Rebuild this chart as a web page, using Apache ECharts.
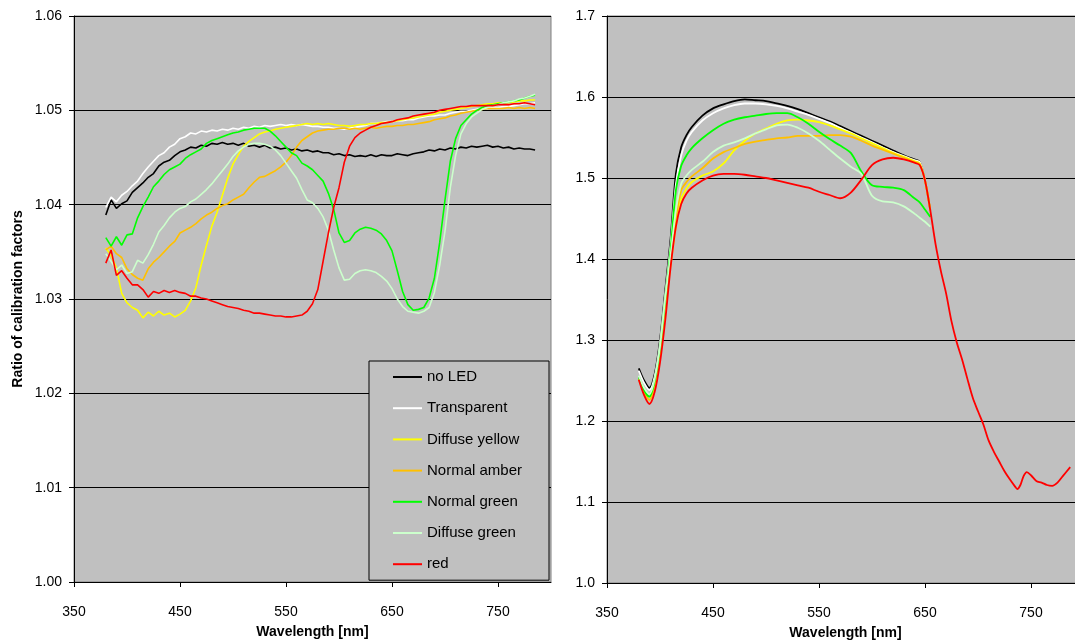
<!DOCTYPE html>
<html>
<head>
<meta charset="utf-8">
<script src="https://cdn.jsdelivr.net/npm/echarts@6/dist/echarts.min.js"></script>
<style>
  html, body { margin: 0; padding: 0; background: #fff; overflow: hidden; }
  #chart { width: 1075px; height: 642px; }
</style>
</head>
<body>
<div id="chart"></div>
<script>
// series names, in legend order
const seriesNames = ['no LED', 'Transparent', 'Diffuse yellow', 'Normal amber', 'Normal green', 'Diffuse green', 'red'];
const seriesColors = ['#000000', '#ffffff', '#ffff00', '#ffc000', '#00ff00', '#ccffcc', '#ff0000'];
const xTicks = [350, 450, 550, 650, 750];

// left panel: ratio of calibration factors
const wlLeft = [380, 385, 390, 395, 400, 405, 410, 415, 420, 425,
  430, 435, 440, 445, 450, 455, 460, 465, 470, 475,
  480, 485, 490, 495, 500, 505, 510, 515, 520, 525,
  530, 535, 540, 545, 550, 555, 560, 565, 570, 575,
  580, 585, 590, 595, 600, 605, 610, 615, 620, 625,
  630, 635, 640, 645, 650, 655, 660, 665, 670, 675,
  680, 685, 690, 695, 700, 705, 710, 715, 720, 725,
  730, 735, 740, 745, 750, 755, 760, 765, 770, 775,
  780, 785];

const noLedLeft = [1.0389, 1.0405, 1.0396, 1.0401, 1.0404, 1.0413, 1.0418, 1.0423, 1.0429, 1.0433,
  1.0441, 1.0445, 1.0447, 1.0452, 1.0456, 1.0458, 1.0461, 1.0460, 1.0463, 1.0462,
  1.0465, 1.0464, 1.0466, 1.0464, 1.0465, 1.0463, 1.0465, 1.0462, 1.0463, 1.0461,
  1.0463, 1.0460, 1.0461, 1.0459, 1.0460, 1.0458, 1.0459, 1.0457, 1.0458, 1.0456,
  1.0457, 1.0455, 1.0455, 1.0453, 1.0454, 1.0452, 1.0453, 1.0451, 1.0452, 1.0451,
  1.0453, 1.0451, 1.0453, 1.0452, 1.0452, 1.0454, 1.0453, 1.0452, 1.0454, 1.0455,
  1.0456, 1.0458, 1.0457, 1.0459, 1.0458, 1.0460, 1.0459, 1.0461, 1.0460, 1.0462,
  1.0461, 1.0462, 1.0463, 1.0461, 1.0462, 1.0460, 1.0461, 1.0459, 1.0460, 1.0459,
  1.0459, 1.0458];

const transparentLeft = [1.0397, 1.0408, 1.0403, 1.0410, 1.0414, 1.0420, 1.0425, 1.0433, 1.0440, 1.0446,
  1.0452, 1.0455, 1.0461, 1.0464, 1.0470, 1.0472, 1.0476, 1.0475, 1.0478, 1.0477,
  1.0479, 1.0478, 1.0480, 1.0479, 1.0481, 1.0480, 1.0482, 1.0481, 1.0483, 1.0482,
  1.0484, 1.0483, 1.0484, 1.0485, 1.0484, 1.0485, 1.0484, 1.0485, 1.0484, 1.0483,
  1.0483, 1.0482, 1.0482, 1.0481, 1.0481, 1.0480, 1.0481, 1.0482, 1.0483, 1.0484,
  1.0486, 1.0486, 1.0487, 1.0488, 1.0488, 1.0489, 1.0489, 1.0490, 1.0490, 1.0492,
  1.0493, 1.0494, 1.0494, 1.0495, 1.0495, 1.0497, 1.0498, 1.0499, 1.0499, 1.0500,
  1.0501, 1.0502, 1.0502, 1.0503, 1.0503, 1.0504, 1.0504, 1.0505, 1.0506, 1.0507,
  1.0507, 1.0508];

const diffuseYellowLeft = [1.0354, 1.0346, 1.0333, 1.0306, 1.0296, 1.0291, 1.0288, 1.0280, 1.0286, 1.0282,
  1.0287, 1.0283, 1.0285, 1.0281, 1.0284, 1.0288, 1.0298, 1.0312, 1.0336, 1.0357,
  1.0377, 1.0392, 1.0410, 1.0428, 1.0443, 1.0453, 1.0462, 1.0467, 1.0471, 1.0475,
  1.0477, 1.0478, 1.0480, 1.0481, 1.0482, 1.0483, 1.0484, 1.0485, 1.0486, 1.0485,
  1.0486, 1.0485, 1.0486, 1.0485, 1.0484, 1.0484, 1.0483, 1.0484, 1.0485, 1.0485,
  1.0486, 1.0486, 1.0487, 1.0487, 1.0488, 1.0489, 1.0490, 1.0491, 1.0492, 1.0493,
  1.0494, 1.0495, 1.0496, 1.0498, 1.0499, 1.0500, 1.0501, 1.0502, 1.0503, 1.0504,
  1.0505, 1.0506, 1.0507, 1.0507, 1.0508, 1.0508, 1.0508, 1.0509, 1.0510, 1.0510,
  1.0511, 1.0511];

const normalAmberLeft = [1.0352, 1.0356, 1.0348, 1.0344, 1.0332, 1.0326, 1.0322, 1.0320, 1.0332, 1.0339,
  1.0344, 1.0350, 1.0356, 1.0361, 1.0370, 1.0373, 1.0376, 1.0380, 1.0385, 1.0389,
  1.0392, 1.0396, 1.0399, 1.0401, 1.0405, 1.0408, 1.0411, 1.0418, 1.0424, 1.0429,
  1.0430, 1.0433, 1.0436, 1.0440, 1.0445, 1.0452, 1.0461, 1.0468, 1.0472, 1.0476,
  1.0478, 1.0479, 1.0480, 1.0480, 1.0481, 1.0481, 1.0480, 1.0481, 1.0480, 1.0481,
  1.0482, 1.0481, 1.0482, 1.0483, 1.0483, 1.0484, 1.0484, 1.0485, 1.0485, 1.0486,
  1.0487, 1.0488, 1.0490, 1.0491, 1.0492, 1.0494, 1.0495, 1.0497, 1.0498, 1.0499,
  1.0500, 1.0501, 1.0502, 1.0502, 1.0502, 1.0502, 1.0503, 1.0502, 1.0503, 1.0502,
  1.0503, 1.0502];

const normalGreenLeft = [1.0365, 1.0356, 1.0366, 1.0357, 1.0368, 1.0369, 1.0386, 1.0398, 1.0408, 1.0419,
  1.0425, 1.0432, 1.0437, 1.0440, 1.0443, 1.0449, 1.0453, 1.0456, 1.0459, 1.0465,
  1.0468, 1.0470, 1.0472, 1.0474, 1.0476, 1.0477, 1.0479, 1.0480, 1.0481, 1.0481,
  1.0481, 1.0478, 1.0473, 1.0467, 1.0461, 1.0455, 1.0452, 1.0444, 1.0441, 1.0437,
  1.0431, 1.0425, 1.0412, 1.0395, 1.0370, 1.0360, 1.0362, 1.0370, 1.0374, 1.0376,
  1.0375, 1.0373, 1.0369, 1.0362, 1.0351, 1.0330, 1.0308, 1.0294, 1.0288, 1.0289,
  1.0291, 1.0301, 1.0322, 1.0360, 1.0405, 1.0446, 1.0470, 1.0484, 1.0490, 1.0496,
  1.0500, 1.0503, 1.0505, 1.0506, 1.0507, 1.0508, 1.0509, 1.0510, 1.0511, 1.0513,
  1.0515, 1.0516];

const diffuseGreenLeft = [1.0348, 1.0340, 1.0331, 1.0336, 1.0327, 1.0329, 1.0341, 1.0338, 1.0347, 1.0358,
  1.0371, 1.0378, 1.0386, 1.0392, 1.0396, 1.0398, 1.0403, 1.0406, 1.0411, 1.0416,
  1.0422, 1.0429, 1.0436, 1.0443, 1.0451, 1.0457, 1.0461, 1.0464, 1.0465, 1.0465,
  1.0464, 1.0462, 1.0458, 1.0452, 1.0444, 1.0436, 1.0428, 1.0416, 1.0405, 1.0402,
  1.0396, 1.0387, 1.0373, 1.0352, 1.0333, 1.0320, 1.0321, 1.0327, 1.0330, 1.0331,
  1.0330, 1.0328, 1.0324, 1.0319, 1.0311, 1.0300, 1.0292, 1.0287, 1.0286, 1.0285,
  1.0287, 1.0291, 1.0307, 1.0336, 1.0372, 1.0418, 1.0452, 1.0475, 1.0486, 1.0493,
  1.0497, 1.0501, 1.0503, 1.0505, 1.0506, 1.0508, 1.0509, 1.0510, 1.0512, 1.0513,
  1.0515, 1.0517];

const redLeft = [1.0338, 1.0352, 1.0325, 1.0330, 1.0322, 1.0315, 1.0315, 1.0310, 1.0302, 1.0308,
  1.0306, 1.0309, 1.0307, 1.0309, 1.0307, 1.0306, 1.0303, 1.0303, 1.0301, 1.0300,
  1.0298, 1.0296, 1.0294, 1.0292, 1.0291, 1.0290, 1.0288, 1.0287, 1.0285, 1.0285,
  1.0284, 1.0283, 1.0282, 1.0282, 1.0281, 1.0281, 1.0282, 1.0283, 1.0287, 1.0295,
  1.0310, 1.0340, 1.0370, 1.0397, 1.0418, 1.0445, 1.0462, 1.0471, 1.0476, 1.0479,
  1.0482, 1.0484, 1.0486, 1.0487, 1.0488, 1.0490, 1.0491, 1.0492, 1.0494, 1.0495,
  1.0496, 1.0497, 1.0498, 1.0500, 1.0501, 1.0502, 1.0503, 1.0504, 1.0504, 1.0505,
  1.0505, 1.0505, 1.0505, 1.0505, 1.0506, 1.0506, 1.0506, 1.0507, 1.0507, 1.0508,
  1.0507, 1.0506];

// right panel
const wlRight = [380, 385, 390, 395, 400, 405, 410, 415, 420, 425, 430,
  440, 450, 460, 470, 480, 490, 500, 510, 520, 530,
  540, 550, 560, 570, 580, 590, 600, 610, 620, 630,
  640, 645, 650, 655,
  660, 665, 670, 675, 680, 685, 690, 695, 700, 705,
  710, 715, 720, 725, 730, 735, 737, 740, 743, 746,
  750, 755, 760, 765, 770, 775, 780, 787];

const noLedRight = [1.265, 1.250, 1.241, 1.258, 1.300, 1.362, 1.425, 1.505, 1.538, 1.553, 1.563,
  1.577, 1.586, 1.591, 1.595, 1.597, 1.596, 1.595, 1.592, 1.589, 1.585,
  1.580, 1.575, 1.570, 1.564, 1.558, 1.552, 1.546, 1.540, 1.534, 1.528,
  1.523, 1.520, 1.497, 1.460];

const transparentRight = [1.262, 1.247, 1.238, 1.255, 1.296, 1.357, 1.418, 1.492, 1.528, 1.546, 1.557,
  1.571, 1.580, 1.586, 1.590, 1.592, 1.592, 1.591, 1.589, 1.586, 1.582,
  1.578, 1.573, 1.568, 1.562, 1.556, 1.550, 1.544, 1.538, 1.532, 1.527,
  1.522, 1.520, 1.497, 1.460];

const diffuseYellowRight = [1.252, 1.236, 1.226, 1.244, 1.283, 1.342, 1.392, 1.440, 1.474, 1.487, 1.495,
  1.503, 1.508, 1.518, 1.534, 1.546, 1.555, 1.561, 1.567, 1.571, 1.572,
  1.571, 1.569, 1.565, 1.560, 1.555, 1.549, 1.543, 1.537, 1.531, 1.526,
  1.521, 1.518, 1.497, 1.460];

const normalAmberRight = [1.252, 1.236, 1.226, 1.245, 1.286, 1.346, 1.398, 1.450, 1.485, 1.495, 1.502,
  1.512, 1.524, 1.532, 1.537, 1.542, 1.545, 1.547, 1.549, 1.550, 1.552,
  1.552, 1.552, 1.553, 1.553, 1.551, 1.546, 1.540, 1.535, 1.530, 1.525,
  1.520, 1.517, 1.497, 1.460];

const normalGreenRight = [1.254, 1.238, 1.230, 1.250, 1.290, 1.352, 1.412, 1.485, 1.515, 1.528, 1.537,
  1.549, 1.559, 1.567, 1.572, 1.575, 1.577, 1.579, 1.580, 1.580, 1.575,
  1.567, 1.557, 1.548, 1.540, 1.531, 1.508, 1.491, 1.489, 1.488, 1.485,
  1.475, 1.470, 1.461, 1.452];

const diffuseGreenRight = [1.256, 1.241, 1.233, 1.252, 1.292, 1.353, 1.405, 1.460, 1.493, 1.503, 1.510,
  1.520, 1.532, 1.540, 1.544, 1.549, 1.555, 1.560, 1.565, 1.566, 1.562,
  1.555, 1.546, 1.535, 1.524, 1.514, 1.505, 1.478, 1.471, 1.470, 1.465,
  1.456, 1.451, 1.446, 1.440];

const redRight = [1.251, 1.232, 1.221, 1.236, 1.272, 1.325, 1.390, 1.440, 1.468, 1.481, 1.488,
  1.497, 1.503, 1.505, 1.505, 1.504, 1.502, 1.500, 1.497, 1.494, 1.491,
  1.488, 1.483, 1.479, 1.475, 1.482, 1.498, 1.516, 1.523, 1.525, 1.523,
  1.519, 1.516, 1.497, 1.460,
  1.418, 1.385, 1.357, 1.323, 1.297, 1.276, 1.252, 1.229, 1.212, 1.196,
  1.176, 1.162, 1.150, 1.138, 1.128, 1.119, 1.116, 1.121, 1.132, 1.137,
  1.133, 1.126, 1.124, 1.121, 1.120, 1.124, 1.132, 1.143];

const leftValues = [noLedLeft, transparentLeft, diffuseYellowLeft, normalAmberLeft, normalGreenLeft, diffuseGreenLeft, redLeft];
const rightValues = [noLedRight, transparentRight, diffuseYellowRight, normalAmberRight, normalGreenRight, diffuseGreenRight, redRight];

const fontFamily = '"Liberation Sans", Arial, sans-serif';

function pairs(wl, vals) {
  return vals.map((v, i) => [wl[i], v]);
}

function makeX(gridIndex) {
  return {
    gridIndex,
    type: 'value',
    min: 350,
    max: 800,
    name: 'Wavelength [nm]',
    nameLocation: 'middle',
    nameGap: 43,
    nameTextStyle: { fontFamily, fontSize: 14, fontWeight: 'bold', color: '#000' },
    axisLine: { onZero: false, lineStyle: { color: '#000', width: 1 } },
    axisTick: { customValues: xTicks, length: 5, lineStyle: { color: '#000' } },
    axisLabel: { customValues: xTicks, fontFamily, fontSize: 14, color: '#000', margin: 23 },
    splitLine: { show: false },
  };
}

function makeY(gridIndex, min, max, interval, digits) {
  return {
    gridIndex,
    type: 'value',
    min,
    max,
    interval,
    axisLine: { show: true, lineStyle: { color: '#000', width: 1 } },
    axisTick: { show: true, length: 5, lineStyle: { color: '#000' } },
    axisLabel: {
      fontFamily, fontSize: 14, color: '#000', margin: 12,
      formatter: (v) => v.toFixed(digits),
    },
    splitLine: { show: true, lineStyle: { color: '#000', width: 1 } },
  };
}

const series = [];
seriesNames.forEach((name, i) => {
  series.push({
    name, type: 'line', xAxisIndex: 0, yAxisIndex: 0,
    data: pairs(wlLeft, leftValues[i]),
    symbol: 'none', showSymbol: false,
    lineStyle: { color: seriesColors[i], width: 1.6 },
    itemStyle: { color: seriesColors[i] },
  });
});
seriesNames.forEach((name, i) => {
  series.push({
    name, type: 'line', xAxisIndex: 1, yAxisIndex: 1,
    data: pairs(wlRight, rightValues[i]),
    symbol: 'none', showSymbol: false, smooth: 0.3,
    lineStyle: { color: seriesColors[i], width: 1.8 },
    itemStyle: { color: seriesColors[i] },
  });
});

const yLeft = makeY(0, 1.0, 1.06, 0.01, 2);
yLeft.name = 'Ratio of calibration factors';
yLeft.nameLocation = 'middle';
yLeft.nameGap = 49;
yLeft.nameTextStyle = { fontFamily, fontSize: 14, fontWeight: 'bold', color: '#000' };

const chart = echarts.init(document.getElementById('chart'), null, { renderer: 'canvas' });
chart.setOption({
  animation: false,
  backgroundColor: '#fff',
  textStyle: { fontFamily },
  grid: [
    { left: 74, top: 16, right: 524, bottom: 60, outerBoundsMode: 'none', show: true, backgroundColor: '#c0c0c0', borderColor: '#808080', borderWidth: 1 },
    // the right panel runs past the edge of the picture, as in the original
    { left: 607, top: 16, width: 477, bottom: 59, outerBoundsMode: 'none', show: true, backgroundColor: '#c0c0c0', borderColor: '#808080', borderWidth: 1 },
  ],
  xAxis: [makeX(0), makeX(1)],
  yAxis: [yLeft, makeY(1, 1.0, 1.7, 0.1, 1)],
  legend: {
    data: seriesNames,
    orient: 'vertical',
    left: 369,
    top: 361,
    icon: 'rect',
    itemWidth: 29,
    itemHeight: 2,
    itemGap: 15.2,
    padding: [8, 27, 8, 24],
    backgroundColor: '#c0c0c0',
    borderColor: '#000',
    borderWidth: 1,
    textStyle: { fontFamily, fontSize: 15, lineHeight: 16, color: '#000' },
  },
  series,
});
</script>
</body>
</html>
